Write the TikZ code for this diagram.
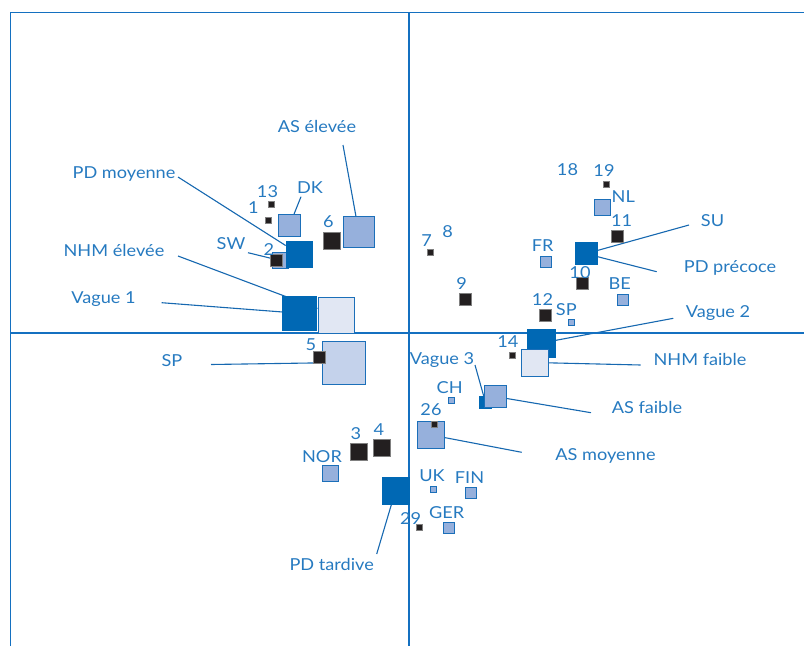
\documentclass[tikz,border=0pt]{standalone}
\usepackage{fontspec}
\setmainfont{Lato}[FakeStretch=1.1]
\usetikzlibrary{backgrounds}
\definecolor{dblue}{RGB}{0,104,180}
\definecolor{mblue}{RGB}{150,176,220}
\definecolor{lblue}{RGB}{225,231,243}
\definecolor{sblue}{RGB}{196,210,235}
\definecolor{eblue}{RGB}{27,111,185}
\definecolor{tblue}{RGB}{38,122,192}
\definecolor{cblue}{RGB}{22,104,176}
\definecolor{axblue}{RGB}{20,112,192}
\definecolor{blk}{RGB}{35,31,32}
\tikzset{
  lbl/.style={text=tblue, font=\fontsize{16.5}{18}\selectfont, inner sep=0pt, anchor=base},
  bx/.style={rectangle, inner sep=0pt, minimum size=#1},
  dkb/.style={bx=#1, fill=dblue, draw=dblue, line width=0.6pt},
  mdb/.style={bx=#1, fill=mblue, draw=eblue, line width=1pt},
  ltb/.style={bx=#1, fill=lblue, draw=eblue, line width=1pt},
  spb/.style={bx=#1, fill=sblue, draw=eblue, line width=1pt},
  sqb/.style={bx=#1, fill=blk, draw=black!50, line width=0.5pt},
  conn/.style={draw=cblue, line width=1.1pt},
  axis/.style={draw=axblue, line width=1.2pt},
}
\begin{document}
\begin{tikzpicture}[x=1pt,y=-1pt]
\useasboundingbox (0,0) rectangle (804,646);
% frame and axes
\coordinate (ftl) at (10.5,12.5);
\coordinate (ftr) at (804,12.5);
\coordinate (fbl) at (10.5,646);
\coordinate (axl) at (10.5,333);
\coordinate (axr) at (804,333);
\coordinate (axt) at (409,12.5);
\coordinate (axb) at (409,646);
\draw[axis, line width=1.8pt] (fbl) -- (ftl) -- (ftr);
\draw[axis] (axl) -- (axr);
\draw[axis] (axt) -- (axb);

% upper left cluster
\node[sqb=6] (n13) at (271,204.5) {};
\node[sqb=6] (n1) at (268.3,220.5) {};
\node[mdb=22] (dk) at (289.5,225.4) {};
\node[mdb=16] (swb) at (280,260.5) {};
\node[sqb=12] (n2) at (276.3,260.5) {};
\node[dkb=26] (pdm) at (299,254) {};
\node[sqb=17] (n6) at (332,240.5) {};
\node[mdb=31] (asel) at (358.8,232) {};
\node[ltb=36] (nhme) at (336,315.4) {};
\node[dkb=34] (v1) at (299.5,313.3) {};
\node[spb=43] (spl) at (343.8,362.5) {};
\node[sqb=12] (n5) at (319.3,357.5) {};

% upper right cluster
\node[sqb=6] (n19) at (606.7,184.2) {};
\node[mdb=16] (nl) at (602.3,207.3) {};
\node[sqb=12] (n11) at (617.5,235.8) {};
\node[dkb=22] (su) at (585.8,253.7) {};
\node[mdb=11] (fr) at (545.5,262) {};
\node[sqb=12] (n10) at (582.2,283.5) {};
\node[mdb=11] (be) at (623,299.5) {};
\node[sqb=6] (n7) at (430,252.5) {};
\node[sqb=12] (n9) at (464.8,299.2) {};
\node[sqb=12] (n12) at (545.5,314.8) {};
\node[mdb=6] (spr) at (571.2,322.8) {};
\node[dkb=28] (v2) at (541.5,343) {};
\node[sqb=6] (n14) at (512.7,355) {};
\node[ltb=27] (nhmf) at (534.5,362.5) {};

% lower cluster
\node[dkb=12] (v3) at (485.5,402.5) {};
\node[mdb=22] (asf) at (495,396.5) {};
\node[mdb=6] (ch) at (451.8,400.3) {};
\node[mdb=27] (asm) at (431.2,435) {};
\node[sqb=6] (n26) at (434,424.7) {};
\node[sqb=17] (n3) at (359.2,451.7) {};
\node[sqb=17] (n4) at (382,448) {};
\node[mdb=16] (nor) at (330.7,473.7) {};
\node[dkb=27] (pdt) at (395.5,490.7) {};
\node[mdb=6] (uk) at (433.8,489.2) {};
\node[mdb=11] (fin) at (470.8,493.3) {};
\node[mdb=11] (ger) at (448.7,528) {};
\node[sqb=6] (n29) at (419,527.7) {};

% labels
\node[lbl] (tasel) at (317,132) {AS élevée};
\node[lbl] (tpdm) at (124,178) {PD moyenne};
\node[lbl] (t13) at (267.5,197) {13};
\node[lbl] (t1) at (253.5,213) {1};
\node[lbl] (tdk) at (310,193) {DK};
\node[lbl] (t6) at (328.5,227) {6};
\node[lbl] (tsw) at (231,249) {SW};
\node[lbl] (t2) at (269,255) {2};
\node[lbl] (tnhme) at (114,256.7) {NHM élevée};
\node[lbl] (tv1) at (103.5,303) {Vague 1};
\node[lbl] (t5) at (311,350) {5};
\node[lbl] (tspl) at (172,366.7) {SP};
\node[lbl] (t18) at (567.5,175) {18};
\node[lbl] (t19) at (604,176.7) {19};
\node[lbl] (tnl) at (623.3,202.3) {NL};
\node[lbl] (t11) at (621.7,226) {11};
\node[lbl] (tsu) at (712.5,226) {SU};
\node[lbl] (tpdp) at (730,272.7) {PD précoce};
\node[lbl] (tfr) at (542.7,251.7) {FR};
\node[lbl] (t10) at (580,278.3) {10};
\node[lbl] (tbe) at (619.7,289.3) {BE};
\node[lbl] (t7) at (426.7,246) {7};
\node[lbl] (t8) at (447.7,237.3) {8};
\node[lbl] (t9) at (461.7,289.3) {9};
\node[lbl] (t12) at (542.5,305) {12};
\node[lbl] (tspr) at (566.3,315) {SP};
\node[lbl] (tv2) at (718,317) {Vague 2};
\node[lbl] (t14) at (507.8,347.3) {14};
\node[lbl] (tnhmf) at (700,365) {NHM faible};
\node[lbl] (tv3) at (442,364) {Vague 3};
\node[lbl] (tch) at (449.7,393.3) {CH};
\node[lbl] (t26) at (431,415) {26};
\node[lbl] (tasf) at (647,413.3) {AS faible};
\node[lbl] (tasm) at (605.5,460) {AS moyenne};
\node[lbl] (t3) at (356,439) {3};
\node[lbl] (t4) at (379,435.7) {4};
\node[lbl] (tnor) at (322,462.3) {NOR};
\node[lbl] (tuk) at (432,481.7) {UK};
\node[lbl] (tfin) at (469.5,483.3) {FIN};
\node[lbl] (tger) at (446.7,518.3) {GER};
\node[lbl] (t29) at (410.7,524) {29};
\node[lbl] (tpdt) at (331.7,570) {PD tardive};

% connector start points
\coordinate (casel) at (343,145);
\coordinate (cpdm) at (178,177);
\coordinate (cdk) at (301,196.7);
\coordinate (csw) at (248,252.7);
\coordinate (cnhme) at (178,256);
\coordinate (cv1) at (161.7,302.7);
\coordinate (cspl) at (211,364.5);
\coordinate (csu) at (689,225);
\coordinate (cpdp) at (656.7,271.7);
\coordinate (cv2) at (673.3,318.3);
\coordinate (cnhmf) at (640.7,365);
\coordinate (cv3) at (475,365);
\coordinate (casf) at (591,412.7);
\coordinate (casm) at (521.7,452.3);
\coordinate (cpdt) at (376.7,554);

\begin{scope}[on background layer]
\draw[conn] (casel) -- (asel);
\draw[conn] (cpdm) -- (pdm);
\draw[conn] (cdk) -- (dk);
\draw[conn] (csw) -- (swb);
\draw[conn] (cnhme) -- (nhme);
\draw[conn] (cv1) -- (v1);
\draw[conn] (cspl) -- (spl);
\draw[conn] (csu) -- (su);
\draw[conn] (cpdp) -- (su);
\draw[conn] (cv2) -- (v2);
\draw[conn] (cnhmf) -- (nhmf);
\draw[conn] (cv3) -- (v3);
\draw[conn] (casf) -- (asf);
\draw[conn] (casm) -- (asm);
\draw[conn] (cpdt) -- (pdt);
\end{scope}
\end{tikzpicture}
\end{document}
